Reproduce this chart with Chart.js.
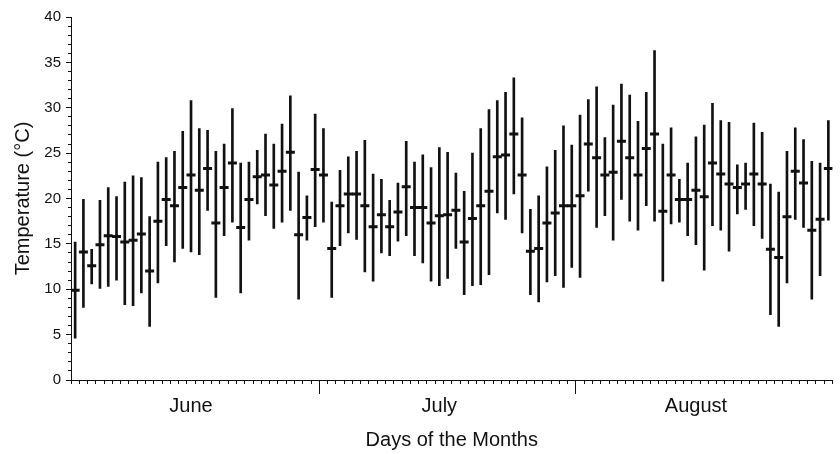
<!DOCTYPE html>
<html>
<head>
<meta charset="utf-8">
<title>Daily temperature ranges, June to August</title>
<script src="https://cdn.jsdelivr.net/npm/chart.js"></script>
<style>
  html, body { margin: 0; padding: 0; background: #fff; }
  #wrap { width: 840px; height: 454px; }
</style>
</head>
<body>
<div id="wrap"><canvas id="tempChart" width="840" height="454"></canvas></div>
<script>
// Months on the x axis
const monthNames = ["June", "July", "August"];
const monthDays = [30, 31, 31];

// Daily temperatures (°C), one entry per day from 1 June to 31 August
const tMax = [
  15.2, 19.9, 14.4, 19.8, 21.2, 20.2, 21.8, 22.5, 22.3, 18.0,
  24.0, 24.5, 25.2, 27.4, 30.8, 27.7, 27.5, 25.2, 26.0, 29.9,
  23.9, 24.0, 25.3, 27.1, 26.0, 28.2, 31.3, 22.9, 20.3, 29.3,
  27.7, 19.6, 23.1, 24.6, 25.2, 26.4, 22.7, 22.1, 19.8, 21.7,
  26.3, 24.0, 24.8, 23.4, 25.6, 25.1, 22.8, 20.8, 25.0, 27.7,
  29.8, 30.8, 31.7, 33.3, 28.9, 18.8, 20.3, 23.5, 25.3, 28.0,
  25.9, 29.2, 30.9, 32.3, 26.7, 30.3, 32.6, 31.4, 28.5, 31.7,
  36.3, 26.0, 27.8, 22.1, 23.9, 26.8, 28.1, 30.5, 28.6, 28.4,
  23.7, 23.9, 28.3, 27.3, 21.6, 20.7, 25.2, 27.8, 26.5, 24.1,
  23.9, 28.6
];
const tMean = [
  9.9, 14.1, 12.6, 14.9, 15.9, 15.8, 15.2, 15.4, 16.1, 12.0,
  17.5, 19.9, 19.2, 21.2, 22.6, 20.9, 23.3, 17.3, 21.2, 23.9,
  16.8, 19.9, 22.4, 22.6, 21.5, 23.0, 25.1, 16.0, 17.9, 23.2,
  22.6, 14.5, 19.2, 20.5, 20.5, 19.2, 16.9, 18.2, 16.9, 18.5,
  21.3, 19.0, 19.0, 17.3, 18.1, 18.2, 18.7, 15.2, 17.8, 19.2,
  20.8, 24.6, 24.8, 27.1, 22.6, 14.2, 14.5, 17.3, 18.4, 19.2,
  19.2, 20.3, 26.0, 24.5, 22.6, 22.9, 26.3, 24.5, 22.6, 25.5,
  27.1, 18.6, 22.6, 19.9, 19.9, 20.9, 20.2, 23.9, 22.7, 21.6,
  21.2, 21.6, 22.7, 21.6, 14.4, 13.5, 18.0, 23.0, 21.7, 16.5,
  17.7, 23.3
];
const tMin = [
  4.6, 8.0, 10.6, 10.1, 10.3, 11.0, 8.3, 8.2, 9.6, 5.9,
  10.7, 14.8, 13.0, 14.5, 14.1, 13.8, 18.7, 9.1, 15.9, 17.4,
  9.6, 15.4, 19.4, 18.1, 16.7, 17.4, 18.7, 8.9, 15.4, 16.9,
  17.4, 9.1, 14.8, 16.2, 15.5, 11.9, 10.9, 14.0, 13.7, 15.3,
  15.9, 13.7, 12.9, 10.9, 10.4, 11.2, 14.5, 9.4, 10.4, 10.5,
  11.6, 18.4, 17.7, 20.5, 16.2, 9.4, 8.6, 10.8, 11.5, 10.2,
  12.4, 11.3, 20.8, 16.8, 18.1, 15.4, 19.9, 17.5, 16.5, 19.2,
  17.5, 10.9, 17.2, 17.4, 15.9, 14.9, 12.1, 17.0, 16.5, 14.2,
  18.3, 18.8, 17.0, 15.6, 7.2, 5.9, 10.7, 17.7, 16.8, 8.9,
  11.5, 17.6
];

// Day boundaries between months and the day each month name sits on
const totalDays = monthDays.reduce((a, b) => a + b, 0);
const monthStarts = monthDays.map((_, i) => monthDays.slice(0, i).reduce((a, b) => a + b, 0));
const monthEnds = monthStarts.slice(1);
const labelDay = 15;
const monthLabelPos = monthStarts.map(s => s + labelDay - 0.5);

const rangeData = tMax.map((hi, i) => ({ x: i + 0.5, y: [tMin[i], hi] }));
const meanData = tMean.map((v, i) => ({ x: i + 0.5, y: v }));

const FONT = "'Liberation Sans', Arial, sans-serif";
const INK = "#111";

new Chart(document.getElementById("tempChart").getContext("2d"), {
  type: "bar",
  data: {
    datasets: [
      {
        label: "Range",
        data: rangeData,
        backgroundColor: INK,
        borderWidth: 0,
        barThickness: 2,
        xAxisID: "x",
        yAxisID: "y"
      },
      {
        type: "line",
        label: "Mean",
        data: meanData,
        showLine: false,
        pointStyle: "line",
        pointRadius: 4.5,
        pointBorderWidth: 3,
        borderColor: INK,
        backgroundColor: INK,
        xAxisID: "x",
        yAxisID: "y"
      }
    ]
  },
  options: {
    responsive: false,
    animation: false,
    layout: { padding: { top: 17, right: 5, bottom: 0, left: 0 } },
    plugins: { legend: { display: false }, tooltip: { enabled: false } },
    scales: {
      // day ticks along the bottom
      x: {
        type: "linear", position: "bottom", weight: 0,
        min: 0, max: totalDays, offset: false,
        ticks: { display: false, stepSize: 1 },
        grid: { offset: false, drawOnChartArea: false, drawTicks: true, tickLength: 4, color: INK, tickWidth: 1 },
        border: { display: true, color: INK, width: 1 },
        afterFit: s => { s.height = 0; }
      },
      // longer ticks where a month ends
      xMonth: {
        type: "linear", position: "bottom", weight: 1,
        min: 0, max: totalDays, offset: false,
        afterBuildTicks: s => { s.ticks = monthEnds.map(v => ({ value: v })); },
        ticks: { display: false },
        grid: { offset: false, drawOnChartArea: false, drawTicks: true, tickLength: 14, color: INK, tickWidth: 1 },
        border: { display: false },
        afterFit: s => { s.height = 0; }
      },
      // month names and the axis title
      xLabel: {
        type: "linear", position: "bottom", weight: 2,
        min: 0, max: totalDays, offset: false,
        afterBuildTicks: s => { s.ticks = monthLabelPos.map(v => ({ value: v })); },
        ticks: {
          autoSkip: false, maxRotation: 0, padding: 14,
          color: INK, font: { family: FONT, size: 20 },
          callback: (v, i) => monthNames[i]
        },
        grid: { offset: false, display: false, drawTicks: false, tickLength: 0 },
        border: { display: false },
        title: {
          display: true, text: "Days of the Months",
          color: INK, font: { family: FONT, size: 20 },
          padding: { top: 0, bottom: 2 }
        },
        afterFit: s => { s.height = 74; }
      },
      y: {
        type: "linear", position: "left", weight: 1,
        min: 0, max: 40,
        ticks: { stepSize: 5, padding: 5, color: INK, font: { family: FONT, size: 15 } },
        grid: { drawOnChartArea: false, drawTicks: true, tickLength: 5, color: INK, tickWidth: 1 },
        border: { display: true, color: INK, width: 1 },
        title: {
          display: true, text: "Temperature (°C)",
          color: INK, font: { family: FONT, size: 20 },
          padding: { top: 11, bottom: 0 }
        },
        afterFit: s => { s.width = 71; }
      },
      // one-degree minor ticks
      yMinor: {
        type: "linear", position: "left", weight: 0,
        min: 0, max: 40,
        ticks: { display: false, stepSize: 1 },
        grid: { drawOnChartArea: false, drawTicks: true, tickLength: 3, color: INK, tickWidth: 1 },
        border: { display: false },
        afterFit: s => { s.width = 0; }
      }
    }
  }
});
</script>
</body>
</html>
